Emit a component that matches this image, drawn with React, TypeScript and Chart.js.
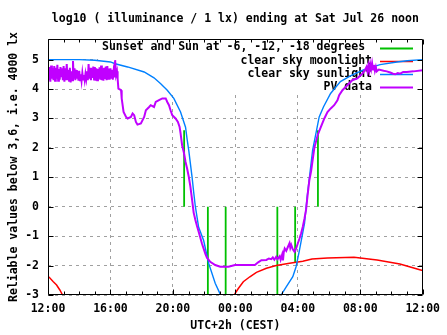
import React, { useEffect, useRef } from "react";
import { Chart, registerables } from "chart.js";
Chart.register(...registerables);

const FONT = '"DejaVu Sans Mono", "Liberation Mono", monospace';
const FONT_SIZE = 11.5;

const titleText = "log10 ( illuminance / 1 lx) ending at Sat Jul 26 noon";
const yTitleText = "Reliable values below 3,6, i.e. 4000 lx";
const xTitleText = "UTC+2h (CEST)";
const seriesLabels = [
  "Sunset and Sun at -6, -12, -18 degrees ",
  "clear sky moonlight",
  "clear sky sunlight",
  "PV data",
];
const seriesColors = ["#00c000", "#ff0000", "#0080ff", "#c000ff"];

const xMin = 12;
const xMax = 36;
const xMajorStep = 4;
const yMin = -3;
const yMax = 5.7;
const yStep = 1;

// sunset / sun at -6, -12, -18 degree markers (hour, top value)
const sunEventHours = [20.72, 22.24, 23.38, 26.69, 27.83, 29.29];
const sunEventTops = [2.6, -3, -3, -3, -1.9, 2.6];

const moonEvening: [number, number][] = [
  [12.0, -2.38], [12.08, -2.4], [12.34, -2.55], [12.55, -2.66], [12.76, -2.83], [12.93, -3.0], [13.05, -3.15],
];
const moonMorning: [number, number][] = [
  [23.9, -3.1], [23.98, -2.95], [24.19, -2.78], [24.51, -2.55], [24.93, -2.38], [25.35, -2.23], [25.99, -2.09],
  [26.62, -2.0], [27.47, -1.92], [28.32, -1.85], [28.91, -1.78], [29.9, -1.74], [31.6, -1.72], [33.08, -1.81],
  [34.54, -1.95], [35.87, -2.15], [36.0, -2.17],
];

const sunEvening: [number, number][] = [
  [12, 5.0], [14, 5.0], [15, 4.98], [16, 4.92], [16.3, 4.86], [17.1, 4.75], [18.16, 4.58], [18.79, 4.38],
  [19.22, 4.18], [19.64, 3.96], [20.06, 3.68], [20.49, 3.22], [20.81, 2.7], [20.91, 2.3], [21.02, 1.9],
  [21.23, 1.0], [21.33, 0.5], [21.44, 0.0], [21.65, -0.7], [21.97, -1.15], [22.29, -1.92], [22.71, -2.6],
  [23.03, -2.97], [23.15, -3.15],
];
const sunMorning: [number, number][] = [
  [26.85, -3.1], [26.93, -3.0], [27.26, -2.72], [27.68, -2.38], [27.89, -2.04], [28.11, -1.47], [28.43, -0.57],
  [28.6, 0.34], [28.95, 1.92], [29.37, 3.05], [29.65, 3.4], [30.1, 3.85], [30.73, 4.25], [31.37, 4.45],
  [32.2, 4.65], [33.27, 4.83], [34.35, 4.92], [35.0, 4.96], [36.0, 5.0],
];

const pvDay: [number, number][] = [
  [12.0, 4.6], [12.05, 4.3], [12.1, 4.75], [12.15, 4.25], [12.2, 4.8], [12.25, 4.35], [12.3, 4.7], [12.35, 4.3],
  [12.4, 4.78], [12.45, 4.28], [12.5, 4.72], [12.55, 4.35], [12.6, 4.82], [12.65, 4.28], [12.7, 4.68], [12.75, 4.32],
  [12.8, 4.75], [12.85, 4.4], [12.9, 4.7], [12.95, 4.3], [13.0, 4.78], [13.05, 4.25], [13.1, 4.7], [13.15, 4.3],
  [13.2, 4.85], [13.25, 4.3], [13.3, 4.65], [13.35, 4.28], [13.4, 4.72], [13.45, 4.22], [13.5, 4.6], [13.55, 4.3],
  [13.6, 4.95], [13.65, 4.35], [13.7, 4.7], [13.75, 4.3], [13.8, 4.65], [13.85, 4.35], [13.9, 4.6], [13.95, 4.28],
  [14.0, 4.62], [14.05, 4.3], [14.1, 4.5], [14.15, 4.28], [14.2, 4.55], [14.25, 4.32], [14.3, 4.48], [14.35, 4.3],
  [14.4, 4.52], [14.45, 4.35], [14.5, 4.6], [14.55, 4.3], [14.6, 4.85], [14.65, 4.35], [14.7, 4.72], [14.75, 4.3],
  [14.8, 4.7], [14.85, 4.38], [14.9, 4.76], [14.95, 4.32], [15.0, 4.75], [15.05, 4.28], [15.1, 4.7], [15.15, 4.3],
  [15.2, 4.68], [15.25, 4.35], [15.3, 4.74], [15.35, 4.32], [15.4, 4.8], [15.45, 4.3], [15.5, 4.7], [15.55, 4.28],
  [15.6, 4.72], [15.65, 4.34], [15.7, 4.76], [15.75, 4.3], [15.8, 4.78], [15.85, 4.35], [15.9, 4.7], [15.95, 4.32],
  [16.0, 4.7], [16.05, 4.35], [16.1, 4.65], [16.15, 4.32], [16.2, 4.6], [16.25, 4.4], [16.3, 4.98], [16.36, 4.47],
  [16.42, 4.6], [16.46, 4.35], [16.51, 4.01],
];
const pvEvening: [number, number][] = [
  [16.68, 3.96], [16.72, 3.68], [16.84, 3.22], [17.0, 3.05], [17.1, 3.0], [17.31, 3.05], [17.42, 3.17],
  [17.52, 3.11], [17.63, 2.88], [17.73, 2.79], [17.95, 2.83], [18.16, 3.05], [18.27, 3.28], [18.48, 3.39],
  [18.58, 3.45], [18.79, 3.39], [18.9, 3.56], [19.11, 3.62], [19.32, 3.68], [19.54, 3.68], [19.64, 3.56],
  [19.75, 3.45], [19.85, 3.28], [19.96, 3.11], [20.17, 3.0], [20.32, 2.88], [20.43, 2.71], [20.49, 2.5],
  [20.59, 2.09], [20.7, 1.85], [20.81, 1.52], [20.91, 1.3], [21.02, 1.01], [21.12, 0.68], [21.23, 0.23],
  [21.33, -0.2], [21.44, -0.45], [21.54, -0.65], [21.65, -0.85], [21.86, -1.25], [22.08, -1.6], [22.18, -1.73],
  [22.39, -1.87], [22.71, -1.98], [23.03, -2.04], [23.56, -2.04], [23.98, -1.98],
];
const pvNight: [number, number][] = [
  [24.51, -1.98], [25.25, -1.98], [25.46, -1.89], [25.67, -1.82], [25.99, -1.81], [26.15, -1.76], [26.3, -1.78],
  [26.4, -1.72], [26.5, -1.8], [26.62, -1.7], [26.7, -1.78], [26.84, -1.68], [26.9, -1.8], [27.0, -1.62],
  [27.05, -1.82], [27.1, -1.55], [27.16, -1.42], [27.26, -1.5], [27.37, -1.36], [27.47, -1.24], [27.52, -1.4],
  [27.58, -1.3], [27.68, -1.45], [27.79, -1.53], [27.89, -1.42], [28.0, -1.25], [28.11, -1.08], [28.21, -0.91],
  [28.32, -0.68], [28.43, -0.4], [28.53, -0.1],
];
const pvMorning: [number, number][] = [
  [28.63, 0.4], [28.74, 0.9], [28.85, 1.2], [29.06, 2.0], [29.27, 2.43], [29.48, 2.71], [29.7, 3.0], [29.9, 3.22],
  [30.11, 3.34], [30.33, 3.45], [30.54, 3.62], [30.65, 3.79], [30.86, 3.96], [31.17, 4.13], [31.49, 4.3],
  [31.81, 4.36], [32.13, 4.52], [32.3, 4.64], [32.4, 4.75], [32.46, 4.6], [32.52, 4.8], [32.58, 4.62],
  [32.64, 4.85], [32.7, 4.68], [32.76, 4.88], [32.82, 4.66], [32.88, 4.82], [32.94, 4.62], [33.0, 4.75],
  [33.06, 4.6], [33.19, 4.66], [33.5, 4.62], [33.7, 4.6], [33.92, 4.56], [34.1, 4.52], [34.24, 4.5],
  [34.4, 4.54], [34.56, 4.52], [34.75, 4.58], [34.98, 4.58], [35.41, 4.6], [36.0, 4.64],
];

// layout constants (pixels)
const KEY_LEFT = 98;
const KEY_BOTTOM = 92;
const KEY_TEXT_RIGHT = 372;
const KEY_SAMPLE_L = 380;
const KEY_SAMPLE_R = 413;
const KEY_ROW0 = 47.5;
const KEY_ROW = 13.2;
const MAJOR_TIC = 5;
const MINOR_TIC = 3;

const toPts = (arr: [number, number][]) => arr.map(([x, y]) => ({ x, y }));
const GAP = (x: number) => ({ x, y: null as any });

const fmtHour = (v: number) => String(((v % 24) + 24) % 24).padStart(2, "0") + ":00";

const gnuplotPlugin = {
  id: "gnuplotFrame",
  beforeDatasetsDraw(chart: any) {
    const { ctx, chartArea: a } = chart;
    ctx.save();
    ctx.fillStyle = "#ffffff";
    ctx.fillRect(KEY_LEFT, a.top, a.right - KEY_LEFT, KEY_BOTTOM - a.top);
    ctx.font = `bold ${FONT_SIZE}px ${FONT}`;
    ctx.textAlign = "right";
    ctx.textBaseline = "middle";
    chart.data.datasets.forEach((ds: any, i: number) => {
      const y = KEY_ROW0 + i * KEY_ROW;
      ctx.fillStyle = "#000";
      ctx.fillText(ds.label, KEY_TEXT_RIGHT, y);
      ctx.strokeStyle = ds.borderColor;
      ctx.lineWidth = ds.borderWidth;
      ctx.beginPath();
      ctx.moveTo(KEY_SAMPLE_L, Math.round(y) + 0.5);
      ctx.lineTo(KEY_SAMPLE_R, Math.round(y) + 0.5);
      ctx.stroke();
    });
    ctx.restore();
  },
  afterDatasetsDraw(chart: any) {
    const { ctx, chartArea: a, scales } = chart;
    const xs = scales.x;
    const ys = scales.y;
    const L = Math.round(a.left) + 0.5;
    const R = Math.round(a.right) - 0.5;
    const T = Math.round(a.top) + 0.5;
    const B = Math.round(a.bottom) - 0.5;
    ctx.save();
    ctx.strokeStyle = "#000";
    ctx.lineWidth = 1;
    ctx.beginPath();
    ctx.rect(L, T, R - L, B - T);
    for (let h = xMin; h <= xMax; h++) {
      const px = Math.round(xs.getPixelForValue(h)) + 0.5;
      const len = (h - xMin) % xMajorStep === 0 ? MAJOR_TIC : MINOR_TIC;
      ctx.moveTo(px, B);
      ctx.lineTo(px, B - len);
      ctx.moveTo(px, T);
      ctx.lineTo(px, T + len);
    }
    for (let v = yMin; v <= 5; v += yStep) {
      const py = Math.round(ys.getPixelForValue(v)) + 0.5;
      ctx.moveTo(L, py);
      ctx.lineTo(L + MAJOR_TIC, py);
      ctx.moveTo(R, py);
      ctx.lineTo(R - MAJOR_TIC, py);
    }
    ctx.stroke();
    ctx.restore();
  },
};

export default function App() {
  const ref = useRef<HTMLCanvasElement>(null);
  useEffect(() => {
    document.body.style.margin = "0";
    const sunsetPts: any[] = [];
    sunEventHours.forEach((h, i) => {
      sunsetPts.push({ x: h, y: 0 }, { x: h, y: sunEventTops[i] }, GAP(h));
    });
    const font = { family: FONT, size: FONT_SIZE, weight: "bold" as const };
    const gridCommon = { color: "#a0a0a0", lineWidth: 1, drawTicks: false };
    const chart = new Chart(ref.current!, {
      type: "line",
      data: {
        datasets: [
          {
            label: seriesLabels[0],
            data: sunsetPts,
            borderColor: seriesColors[0],
            borderWidth: 1.8,
            order: 3,
          },
          {
            label: seriesLabels[1],
            data: [...toPts(moonEvening), GAP(18), ...toPts(moonMorning)],
            borderColor: seriesColors[1],
            borderWidth: 1.5,
            order: 2,
          },
          {
            label: seriesLabels[2],
            data: [...toPts(sunEvening), GAP(25), ...toPts(sunMorning)],
            borderColor: seriesColors[2],
            borderWidth: 1.4,
            order: 1,
          },
          {
            label: seriesLabels[3],
            data: [...toPts(pvDay), ...toPts(pvEvening), ...toPts(pvNight), ...toPts(pvMorning)],
            borderColor: seriesColors[3],
            borderWidth: 2,
            order: 0,
          },
        ] as any,
      },
      options: {
        animation: false,
        responsive: false,
        devicePixelRatio: 1,
        spanGaps: false,
        elements: {
          point: { radius: 0 },
          line: { tension: 0, fill: false, borderJoinStyle: "miter" as any },
        },
        layout: { padding: { left: 0, right: 21, top: 0, bottom: 0 } },
        plugins: {
          legend: { display: false },
          tooltip: { enabled: false },
          title: {
            display: true,
            text: titleText,
            color: "#000",
            font,
            fullSize: false,
            padding: { top: 12, bottom: 13.2 },
          },
        },
        scales: {
          x: {
            type: "linear",
            position: "bottom",
            min: xMin,
            max: xMax,
            ticks: {
              stepSize: xMajorStep,
              callback: (v: any) => fmtHour(Number(v)),
              color: "#000",
              font,
              padding: 7,
              maxRotation: 0,
              autoSkip: false,
            },
            grid: gridCommon,
            border: { display: false, dash: [3, 4] },
            title: {
              display: true,
              text: xTitleText,
              color: "#000",
              font,
              padding: { top: 0, bottom: 2 },
            },
            afterFit: (s: any) => {
              s.height = 40;
            },
          },
          y: {
            type: "linear",
            position: "left",
            min: yMin,
            max: yMax,
            ticks: {
              stepSize: yStep,
              includeBounds: false,
              color: "#000",
              font,
              padding: 9,
            },
            grid: gridCommon,
            border: { display: false, dash: [3, 4] },
            title: {
              display: true,
              text: yTitleText,
              color: "#000",
              font,
              padding: { top: 7, bottom: 0 },
            },
            afterFit: (s: any) => {
              s.width = 48;
            },
          },
        },
      } as any,
      plugins: [gnuplotPlugin],
    });
    return () => chart.destroy();
  }, []);
  return (
    <div style={{ width: 447, height: 335, background: "#fff" }}>
      <canvas ref={ref} width={447} height={335} style={{ display: "block" }} />
    </div>
  );
}
